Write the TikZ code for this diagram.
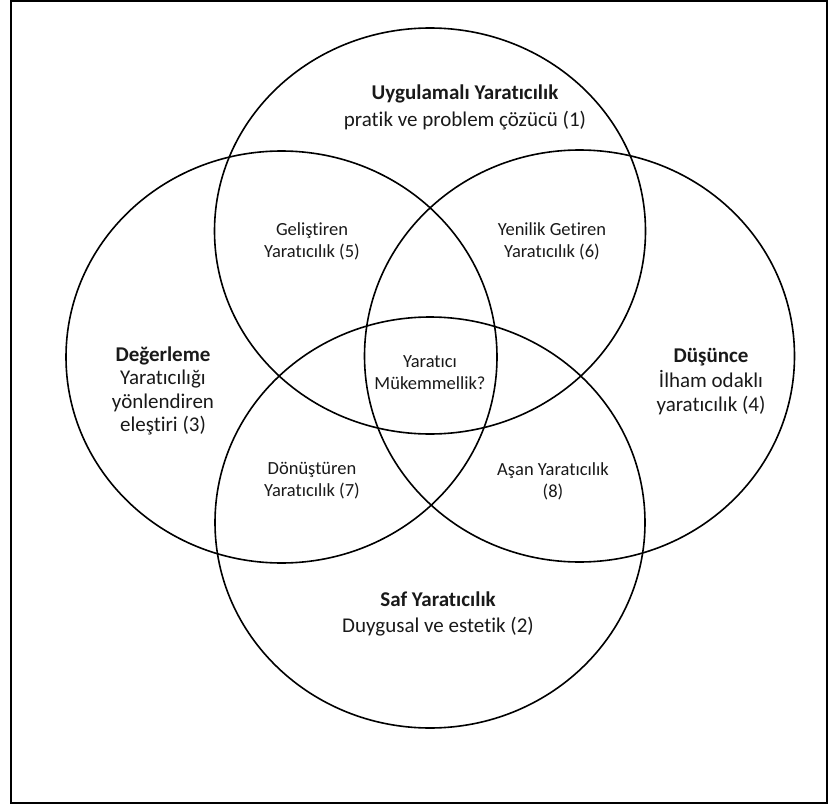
\documentclass[tikz,border=0pt]{standalone}
\usepackage{fontspec}
\setmainfont{Carlito}[Ligatures={NoCommon}]
\begin{document}
\begin{tikzpicture}[x=1pt,y=-1pt,
  venn/.style={line width=1.6pt},
  frameline/.style={line width=2pt},
  mainlbl/.style={align=center, text=black!90, font=\fontsize{21}{24}\selectfont, inner sep=0pt},
  innerlbl/.style={align=center, text=black!90, font=\fontsize{18.5}{22}\selectfont, inner sep=0pt}]
\useasboundingbox (0,0) rectangle (828,808);
\draw[frameline] (11,1) rectangle (827,803);
% circles
\draw[venn] (430,231) ellipse [x radius=215.5, y radius=203];
\draw[venn] (281.5,357) ellipse [x radius=215.5, y radius=206];
\draw[venn] (579.5,356) ellipse [x radius=215, y radius=206];
\draw[venn] (430,522.5) ellipse [x radius=215, y radius=205.5];
% labels
\node[mainlbl, font=\fontsize{21}{27}\selectfont] (uyg) at (465,107) {\textbf{Uygulamalı Yaratıcılık}\\pratik ve problem çözücü (1)};
\node[mainlbl, font=\fontsize{21}{23.5}\selectfont] (deg) at (163,391) {\textbf{Değerleme}\\Yaratıcılığı\\yönlendiren\\eleştiri (3)};
\node[mainlbl, font=\fontsize{21}{24.5}\selectfont] (dus) at (711,382) {\textbf{Düşünce}\\İlham odaklı\\yaratıcılık (4)};
\node[mainlbl, font=\fontsize{21}{26}\selectfont] (saf) at (438,614) {\textbf{Saf Yaratıcılık}\\Duygusal ve estetik (2)};
\node[innerlbl] (gel) at (312,241) {Geliştiren\\Yaratıcılık (5)};
\node[innerlbl] (yen) at (552,241) {Yenilik Getiren\\Yaratıcılık (6)};
\node[innerlbl] (muk) at (430,373) {Yaratıcı\\Mükemmellik?};
\node[innerlbl] (don) at (312,481) {Dönüştüren\\Yaratıcılık (7)};
\node[innerlbl] (asa) at (553,481) {Aşan Yaratıcılık\\(8)};
\end{tikzpicture}
\end{document}
